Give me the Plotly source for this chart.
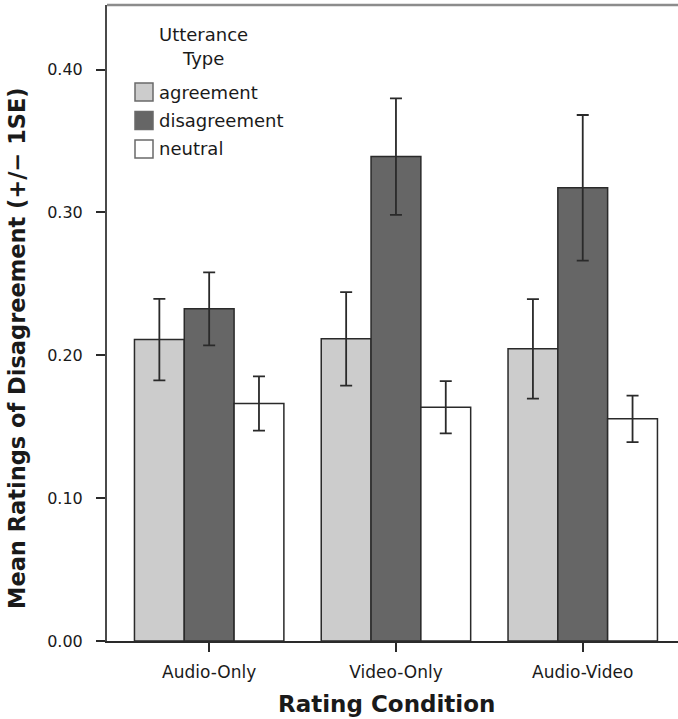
import plotly.graph_objects as go

categories = ["Audio-Only", "Video-Only", "Audio-Video"]
series_names = ["agreement", "disagreement", "neutral"]
agreement = [0.211, 0.2115, 0.2045]
disagreement = [0.2325, 0.3391, 0.3172]
neutral = [0.1662, 0.1636, 0.1555]
agreement_se = [0.0285, 0.0327, 0.0348]
disagreement_se = [0.0256, 0.0408, 0.0510]
neutral_se = [0.0190, 0.0183, 0.0163]
y_tickvals = [0.0, 0.1, 0.2, 0.3, 0.4]
y_ticktext = ["0.00", "0.10", "0.20", "0.30", "0.40"]

colors = ["#cccccc", "#666666", "#ffffff"]
values = [agreement, disagreement, neutral]
ses = [agreement_se, disagreement_se, neutral_se]

FONT = "DejaVu Sans"
W, H = 678, 719
L, R, T, B = 107, 0, 5, 78
pw, ph = W - L - R, H - T - B

def px2paper(x, y):
    return (x - L) / pw, (H - B - y) / ph

fig = go.Figure()
for name, vals, se, col in zip(series_names, values, ses, colors):
    fig.add_trace(go.Bar(
        x=list(range(len(categories))), y=vals, name=name,
        marker=dict(color=col, line=dict(color="#2a2a2a", width=1.5)),
        error_y=dict(type="data", array=se, visible=True, color="#2a2a2a",
                     thickness=1.8, width=6),
        showlegend=False,
    ))

fig.update_layout(
    width=W, height=H, barmode="group", bargap=0.2, bargroupgap=0,
    margin=dict(l=L, r=R, t=T, b=B, pad=0),
    paper_bgcolor="white", plot_bgcolor="white",
    font=dict(family=FONT, color="#1a1a1a"),
)
fig.update_xaxes(
    range=[-0.547, 2.51], tickvals=list(range(len(categories))), ticktext=categories,
    showgrid=False, zeroline=False, showline=True, linecolor="#2a2a2a", linewidth=2,
    ticks="outside", ticklen=9, tickwidth=1.8, tickcolor="#2a2a2a",
    tickfont=dict(size=17, family=FONT, color="#1a1a1a"), ticklabelstandoff=6,
)
fig.update_yaxes(
    range=[0, 0.4452], tickvals=y_tickvals, ticktext=y_ticktext,
    showgrid=False, zeroline=False, showline=True, linecolor="#4a4a4a", linewidth=2,
    ticks="outside", ticklen=9, tickwidth=1.8, tickcolor="#2a2a2a",
    tickfont=dict(size=16, family=FONT, color="#1a1a1a"), ticklabelstandoff=10,
)

# top border
fig.add_shape(type="line", xref="paper", yref="paper", x0=0, x1=1, y0=1, y1=1,
              line=dict(color="#8c8c8c", width=2.5))

# axis titles
ax, ay = px2paper(17, 348)
fig.add_annotation(text="<b>Mean Ratings of Disagreement (+/− 1SE)</b>", xref="paper", yref="paper",
                   x=ax, y=ay, textangle=-90, showarrow=False, xanchor="center", yanchor="middle",
                   font=dict(size=22.5, family=FONT, color="#1a1a1a"))
bx, by = px2paper(386, 704)
fig.add_annotation(text="<b>Rating Condition</b>", xref="paper", yref="paper",
                   x=bx, y=by, showarrow=False, xanchor="center", yanchor="middle",
                   font=dict(size=23, family=FONT, color="#1a1a1a"))

# legend (manual)
tx, ty = px2paper(203, 35)
fig.add_annotation(text="Utterance", xref="paper", yref="paper", x=tx, y=ty, showarrow=False,
                   xanchor="center", yanchor="middle", font=dict(size=18, family=FONT, color="#1a1a1a"))
tx, ty = px2paper(203, 58)
fig.add_annotation(text="Type", xref="paper", yref="paper", x=tx, y=ty, showarrow=False,
                   xanchor="center", yanchor="middle", font=dict(size=18, family=FONT, color="#1a1a1a"))
for i, (name, col) in enumerate(zip(series_names, colors)):
    cy = 92 + i * 28.5
    x0, y0 = px2paper(135, cy - 9)
    x1, y1 = px2paper(153, cy + 9)
    fig.add_shape(type="rect", xref="paper", yref="paper", x0=x0, x1=x1, y0=y0, y1=y1,
                  fillcolor=col, line=dict(color="#6a6a6a", width=1.5))
    lx, ly = px2paper(157, cy)
    fig.add_annotation(text=name, xref="paper", yref="paper", x=lx, y=ly, showarrow=False,
                       xanchor="left", yanchor="middle", font=dict(size=18, family=FONT, color="#1a1a1a"))

fig.write_html("out.html", config={"displayModeBar": False},
               post_script="document.body.style.margin='0';")
